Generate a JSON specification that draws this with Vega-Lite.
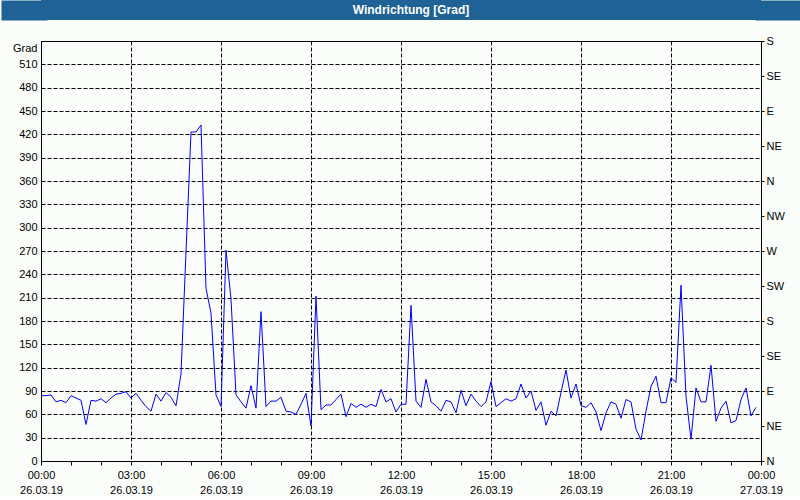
{
  "$schema": "https://vega.github.io/schema/vega-lite/v6.json",
  "padding": 0,
  "background": "#fbfdfb",
  "spacing": 14,
  "config": {
    "font": "Liberation Sans",
    "view": {"stroke": null},
    "axis": {"labelFont": "Liberation Sans", "labelFontSize": 11, "labelColor": "black", "domainColor": "black", "tickColor": "black", "titleFont": "Liberation Sans"}
  },
  "vconcat": [
    {
      "width": 720,
      "height": 20,
      "view": {"fill": "#1e6296", "stroke": null},
      "data": {"values": [{"label": "Windrichtung [Grad]", "p": 0.5}]},
      "layer": [
        {
          "mark": {"type": "text", "font": "Liberation Sans", "fontWeight": "bold", "fontSize": 12, "color": "white", "dx": 10},
          "encoding": {
            "text": {"field": "label", "type": "nominal"},
            "y": {"field": "p", "type": "quantitative", "scale": {"domain": [0, 1]},
                  "axis": {"orient": "left", "labels": false, "ticks": false, "grid": false, "title": null, "domainColor": "#1e6296", "domainWidth": 46, "offset": 17, "minExtent": 0, "maxExtent": 0}}
          }
        },
        {
          "mark": {"type": "text", "opacity": 0},
          "encoding": {
            "text": {"field": "label", "type": "nominal"},
            "y": {"field": "p", "type": "quantitative",
                  "axis": {"orient": "right", "labels": false, "ticks": false, "grid": false, "title": null, "domainColor": "#1e6296", "domainWidth": 46, "offset": 17, "minExtent": 0, "maxExtent": 0}}
          }
        }
      ],
      "resolve": {"axis": {"y": "independent"}}
    },
    {
      "width": 720,
      "height": 420,
      "view": {"stroke": "black"},
      "data": {"values": [
        {"t": "2019-03-26T00:00", "v": 84}, {"t": "2019-03-26T00:10", "v": 84}, {"t": "2019-03-26T00:20", "v": 85}, {"t": "2019-03-26T00:30", "v": 76}, {"t": "2019-03-26T00:40", "v": 78}, {"t": "2019-03-26T00:50", "v": 75},
        {"t": "2019-03-26T01:00", "v": 84}, {"t": "2019-03-26T01:10", "v": 81}, {"t": "2019-03-26T01:20", "v": 78}, {"t": "2019-03-26T01:30", "v": 47}, {"t": "2019-03-26T01:40", "v": 78}, {"t": "2019-03-26T01:50", "v": 77},
        {"t": "2019-03-26T02:00", "v": 80}, {"t": "2019-03-26T02:10", "v": 75}, {"t": "2019-03-26T02:20", "v": 81}, {"t": "2019-03-26T02:30", "v": 86}, {"t": "2019-03-26T02:40", "v": 87}, {"t": "2019-03-26T02:50", "v": 89},
        {"t": "2019-03-26T03:00", "v": 81}, {"t": "2019-03-26T03:10", "v": 87}, {"t": "2019-03-26T03:20", "v": 78}, {"t": "2019-03-26T03:30", "v": 70}, {"t": "2019-03-26T03:40", "v": 64}, {"t": "2019-03-26T03:50", "v": 86},
        {"t": "2019-03-26T04:00", "v": 77}, {"t": "2019-03-26T04:10", "v": 88}, {"t": "2019-03-26T04:20", "v": 82}, {"t": "2019-03-26T04:30", "v": 71}, {"t": "2019-03-26T04:40", "v": 112}, {"t": "2019-03-26T04:50", "v": 269},
        {"t": "2019-03-26T05:00", "v": 423}, {"t": "2019-03-26T05:10", "v": 423}, {"t": "2019-03-26T05:20", "v": 432}, {"t": "2019-03-26T05:30", "v": 222}, {"t": "2019-03-26T05:40", "v": 190}, {"t": "2019-03-26T05:50", "v": 85},
        {"t": "2019-03-26T06:00", "v": 70}, {"t": "2019-03-26T06:10", "v": 271}, {"t": "2019-03-26T06:20", "v": 208}, {"t": "2019-03-26T06:30", "v": 85}, {"t": "2019-03-26T06:40", "v": 76}, {"t": "2019-03-26T06:50", "v": 68},
        {"t": "2019-03-26T07:00", "v": 97}, {"t": "2019-03-26T07:10", "v": 68}, {"t": "2019-03-26T07:20", "v": 192}, {"t": "2019-03-26T07:30", "v": 70}, {"t": "2019-03-26T07:40", "v": 77}, {"t": "2019-03-26T07:50", "v": 77},
        {"t": "2019-03-26T08:00", "v": 82}, {"t": "2019-03-26T08:10", "v": 64}, {"t": "2019-03-26T08:20", "v": 63}, {"t": "2019-03-26T08:30", "v": 60}, {"t": "2019-03-26T08:40", "v": 73}, {"t": "2019-03-26T08:50", "v": 87},
        {"t": "2019-03-26T09:00", "v": 45}, {"t": "2019-03-26T09:10", "v": 212}, {"t": "2019-03-26T09:20", "v": 66}, {"t": "2019-03-26T09:30", "v": 72}, {"t": "2019-03-26T09:40", "v": 72}, {"t": "2019-03-26T09:50", "v": 79},
        {"t": "2019-03-26T10:00", "v": 86}, {"t": "2019-03-26T10:10", "v": 57}, {"t": "2019-03-26T10:20", "v": 74}, {"t": "2019-03-26T10:30", "v": 69}, {"t": "2019-03-26T10:40", "v": 73}, {"t": "2019-03-26T10:50", "v": 69},
        {"t": "2019-03-26T11:00", "v": 73}, {"t": "2019-03-26T11:10", "v": 70}, {"t": "2019-03-26T11:20", "v": 92}, {"t": "2019-03-26T11:30", "v": 76}, {"t": "2019-03-26T11:40", "v": 80}, {"t": "2019-03-26T11:50", "v": 63},
        {"t": "2019-03-26T12:00", "v": 73}, {"t": "2019-03-26T12:10", "v": 73}, {"t": "2019-03-26T12:20", "v": 200}, {"t": "2019-03-26T12:30", "v": 77}, {"t": "2019-03-26T12:40", "v": 69}, {"t": "2019-03-26T12:50", "v": 105},
        {"t": "2019-03-26T13:00", "v": 76}, {"t": "2019-03-26T13:10", "v": 71}, {"t": "2019-03-26T13:20", "v": 64}, {"t": "2019-03-26T13:30", "v": 78}, {"t": "2019-03-26T13:40", "v": 76}, {"t": "2019-03-26T13:50", "v": 62},
        {"t": "2019-03-26T14:00", "v": 91}, {"t": "2019-03-26T14:10", "v": 71}, {"t": "2019-03-26T14:20", "v": 86}, {"t": "2019-03-26T14:30", "v": 77}, {"t": "2019-03-26T14:40", "v": 70}, {"t": "2019-03-26T14:50", "v": 76},
        {"t": "2019-03-26T15:00", "v": 102}, {"t": "2019-03-26T15:10", "v": 70}, {"t": "2019-03-26T15:20", "v": 75}, {"t": "2019-03-26T15:30", "v": 80}, {"t": "2019-03-26T15:40", "v": 77}, {"t": "2019-03-26T15:50", "v": 80},
        {"t": "2019-03-26T16:00", "v": 99}, {"t": "2019-03-26T16:10", "v": 81}, {"t": "2019-03-26T16:20", "v": 90}, {"t": "2019-03-26T16:30", "v": 65}, {"t": "2019-03-26T16:40", "v": 76}, {"t": "2019-03-26T16:50", "v": 46},
        {"t": "2019-03-26T17:00", "v": 64}, {"t": "2019-03-26T17:10", "v": 58}, {"t": "2019-03-26T17:20", "v": 88}, {"t": "2019-03-26T17:30", "v": 117}, {"t": "2019-03-26T17:40", "v": 81}, {"t": "2019-03-26T17:50", "v": 99},
        {"t": "2019-03-26T18:00", "v": 71}, {"t": "2019-03-26T18:10", "v": 69}, {"t": "2019-03-26T18:20", "v": 75}, {"t": "2019-03-26T18:30", "v": 63}, {"t": "2019-03-26T18:40", "v": 39}, {"t": "2019-03-26T18:50", "v": 62},
        {"t": "2019-03-26T19:00", "v": 76}, {"t": "2019-03-26T19:10", "v": 73}, {"t": "2019-03-26T19:20", "v": 55}, {"t": "2019-03-26T19:30", "v": 79}, {"t": "2019-03-26T19:40", "v": 76}, {"t": "2019-03-26T19:50", "v": 41},
        {"t": "2019-03-26T20:00", "v": 27}, {"t": "2019-03-26T20:10", "v": 64}, {"t": "2019-03-26T20:20", "v": 96}, {"t": "2019-03-26T20:30", "v": 109}, {"t": "2019-03-26T20:40", "v": 75}, {"t": "2019-03-26T20:50", "v": 75},
        {"t": "2019-03-26T21:00", "v": 107}, {"t": "2019-03-26T21:10", "v": 101}, {"t": "2019-03-26T21:20", "v": 226}, {"t": "2019-03-26T21:30", "v": 83}, {"t": "2019-03-26T21:40", "v": 28}, {"t": "2019-03-26T21:50", "v": 94},
        {"t": "2019-03-26T22:00", "v": 76}, {"t": "2019-03-26T22:10", "v": 76}, {"t": "2019-03-26T22:20", "v": 123}, {"t": "2019-03-26T22:30", "v": 51}, {"t": "2019-03-26T22:40", "v": 68}, {"t": "2019-03-26T22:50", "v": 77},
        {"t": "2019-03-26T23:00", "v": 49}, {"t": "2019-03-26T23:10", "v": 52}, {"t": "2019-03-26T23:20", "v": 79}, {"t": "2019-03-26T23:30", "v": 94}, {"t": "2019-03-26T23:40", "v": 58}, {"t": "2019-03-26T23:50", "v": 69}
      ]},
      "encoding": {
        "x": {
          "field": "t", "type": "temporal",
          "scale": {"domain": [{"year": 2019, "month": 3, "date": 26, "hours": 0}, {"year": 2019, "month": 3, "date": 27, "hours": 0}], "nice": false},
          "axis": {
            "title": null,
            "values": [
              {"year": 2019, "month": 3, "date": 26, "hours": 0}, {"year": 2019, "month": 3, "date": 26, "hours": 1}, {"year": 2019, "month": 3, "date": 26, "hours": 2},
              {"year": 2019, "month": 3, "date": 26, "hours": 3}, {"year": 2019, "month": 3, "date": 26, "hours": 4}, {"year": 2019, "month": 3, "date": 26, "hours": 5},
              {"year": 2019, "month": 3, "date": 26, "hours": 6}, {"year": 2019, "month": 3, "date": 26, "hours": 7}, {"year": 2019, "month": 3, "date": 26, "hours": 8},
              {"year": 2019, "month": 3, "date": 26, "hours": 9}, {"year": 2019, "month": 3, "date": 26, "hours": 10}, {"year": 2019, "month": 3, "date": 26, "hours": 11},
              {"year": 2019, "month": 3, "date": 26, "hours": 12}, {"year": 2019, "month": 3, "date": 26, "hours": 13}, {"year": 2019, "month": 3, "date": 26, "hours": 14},
              {"year": 2019, "month": 3, "date": 26, "hours": 15}, {"year": 2019, "month": 3, "date": 26, "hours": 16}, {"year": 2019, "month": 3, "date": 26, "hours": 17},
              {"year": 2019, "month": 3, "date": 26, "hours": 18}, {"year": 2019, "month": 3, "date": 26, "hours": 19}, {"year": 2019, "month": 3, "date": 26, "hours": 20},
              {"year": 2019, "month": 3, "date": 26, "hours": 21}, {"year": 2019, "month": 3, "date": 26, "hours": 22}, {"year": 2019, "month": 3, "date": 26, "hours": 23},
              {"year": 2019, "month": 3, "date": 27, "hours": 0}
            ],
            "labelExpr": "hours(datum.value) % 3 == 0 ? [timeFormat(datum.value, '%H:%M'), timeFormat(datum.value, '%d.%m.%y')] : ''",
            "labelLineHeight": 15,
            "labelPadding": 4,
            "tickSize": 4,
            "labelFlush": false,
            "labelOverlap": false,
            "grid": true,
            "gridColor": "black",
            "gridDash": [4, 2],
            "gridOpacity": {"condition": {"test": "hours(datum.value) % 3 == 0", "value": 1}, "value": 0}
          }
        }
      },
      "layer": [
        {
          "mark": {"type": "line", "color": "#0000ff", "strokeWidth": 1},
          "encoding": {
            "y": {
              "field": "v", "type": "quantitative",
              "scale": {"domain": [0, 540], "nice": false},
              "axis": {
                "title": "Grad",
                "titleAngle": 0,
                "titleAlign": "right",
                "titleBaseline": "top",
                "titleFontWeight": "normal",
                "titleFontSize": 11,
                "titleColor": "black",
                "titleX": -4,
                "titleY": 1,
                "values": [0, 30, 60, 90, 120, 150, 180, 210, 240, 270, 300, 330, 360, 390, 420, 450, 480, 510],
                "ticks": false,
                "labelPadding": 4,
                "labelOverlap": false,
                "grid": true,
                "gridColor": "black",
                "gridDash": [4, 2],
                "minExtent": 40,
                "maxExtent": 40
              }
            }
          }
        },
        {
          "mark": {"type": "line", "strokeOpacity": 0},
          "encoding": {
            "y": {
              "field": "v", "type": "quantitative",
              "axis": {
                "orient": "right",
                "title": null,
                "values": [0, 45, 90, 135, 180, 225, 270, 315, 360, 405, 450, 495, 540],
                "labelExpr": "['N','NE','E','SE','S','SW','W','NW'][(datum.value / 45) % 8]",
                "tickSize": 3,
                "labelPadding": 2,
                "labelOverlap": false,
                "grid": false,
                "minExtent": 40,
                "maxExtent": 40
              }
            }
          }
        }
      ],
      "resolve": {"axis": {"y": "independent"}}
    }
  ]
}
